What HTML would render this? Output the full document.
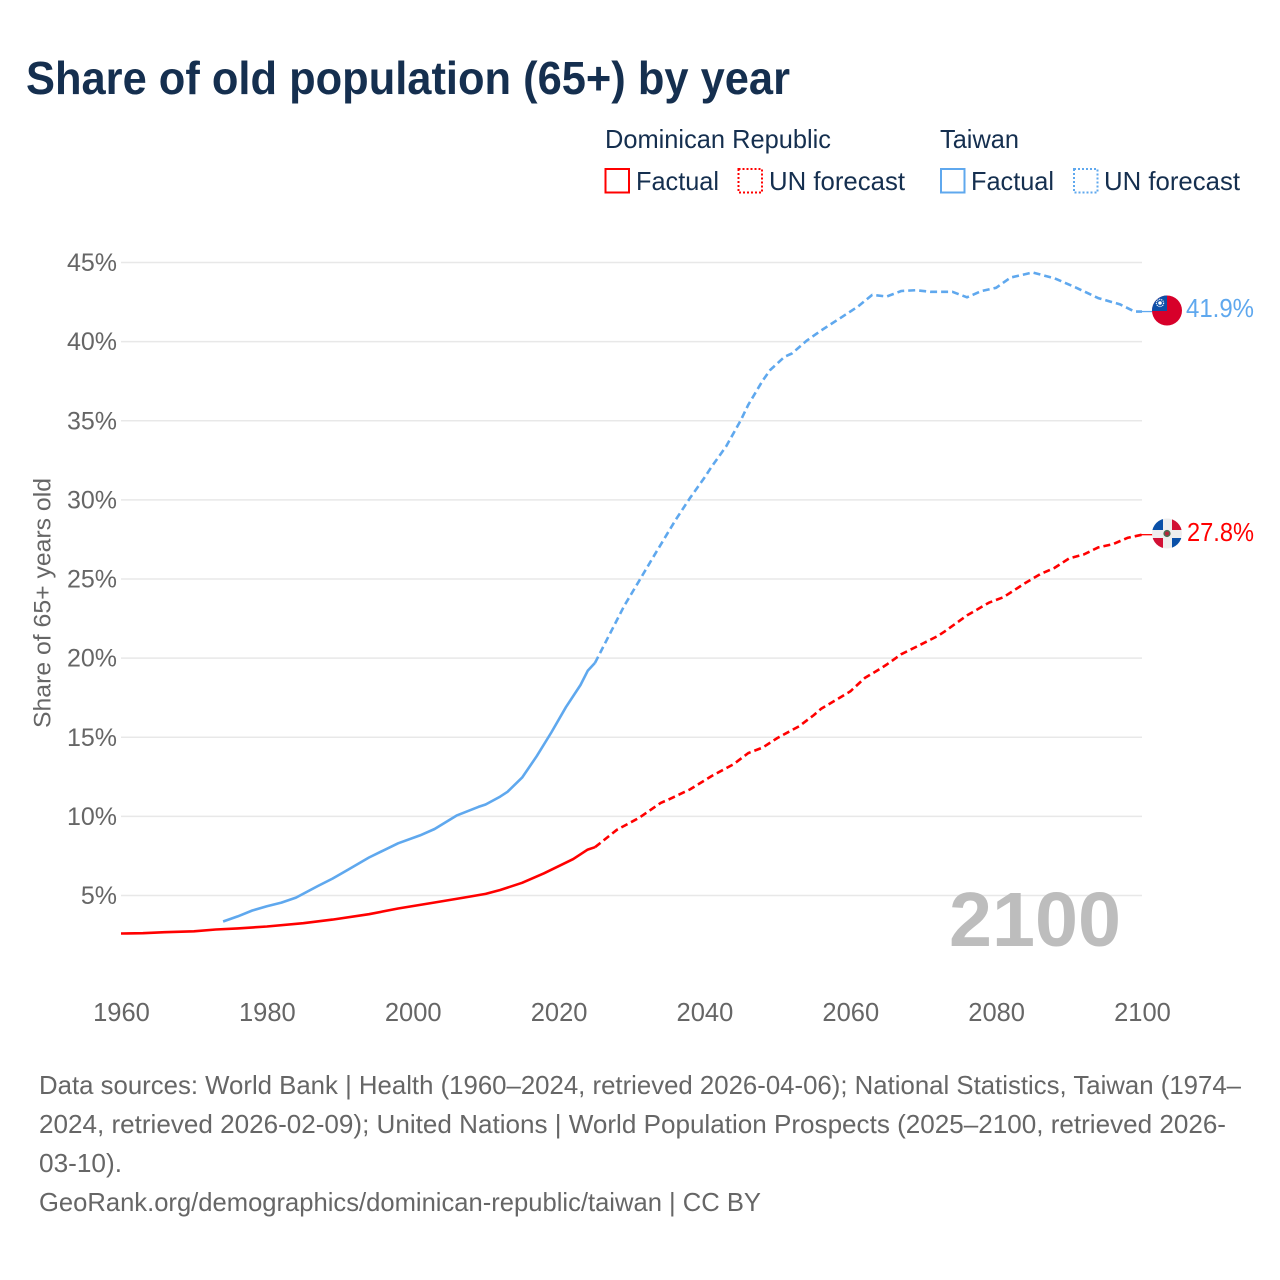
<!DOCTYPE html>
<html lang="en">
<head>
<meta charset="utf-8">
<title>Share of old population (65+) by year</title>
<style>
html,body{margin:0;padding:0;background:#fff}
svg{display:block}
text{font-family:"Liberation Sans",sans-serif}
</style>
</head>
<body>
<svg id="chart" xmlns="http://www.w3.org/2000/svg" width="1280" height="1280" viewBox="0 0 1280 1280">
  <rect width="1280" height="1280" fill="#fff"/>
  <text x="26" y="94" font-size="46" font-weight="700" fill="#152f4f" textLength="764" lengthAdjust="spacingAndGlyphs">Share of old population (65+) by year</text>

  <g font-size="26" fill="#152f4f">
    <text x="605" y="148" textLength="226" lengthAdjust="spacingAndGlyphs">Dominican Republic</text>
    <text x="940" y="148" textLength="79" lengthAdjust="spacingAndGlyphs">Taiwan</text>
    <rect x="605.5" y="169" width="23.5" height="23.5" fill="none" stroke="#ff0000" stroke-width="2"/>
    <text x="636" y="190" textLength="83" lengthAdjust="spacingAndGlyphs">Factual</text>
    <rect x="738.5" y="169" width="23.5" height="23.5" fill="none" stroke="#ff0000" stroke-width="2" stroke-dasharray="2 2"/>
    <text x="769" y="190" textLength="136" lengthAdjust="spacingAndGlyphs">UN forecast</text>
    <rect x="941" y="169" width="23.5" height="23.5" fill="none" stroke="#5fa8ee" stroke-width="2"/>
    <text x="971" y="190" textLength="83" lengthAdjust="spacingAndGlyphs">Factual</text>
    <rect x="1074" y="169" width="23.5" height="23.5" fill="none" stroke="#5fa8ee" stroke-width="2" stroke-dasharray="2 2"/>
    <text x="1104" y="190" textLength="136" lengthAdjust="spacingAndGlyphs">UN forecast</text>
  </g>

  <text transform="translate(50.5,603) rotate(-90)" text-anchor="middle" font-size="24" fill="#666" textLength="250" lengthAdjust="spacingAndGlyphs">Share of 65+ years old</text>
  <g id="grid"></g>
  <g id="yticks"></g>
  <g id="xticks"></g>

  <text x="949" y="946" font-size="77" font-weight="700" fill="#bdbdbd" textLength="172" lengthAdjust="spacingAndGlyphs">2100</text>

  <g id="series"></g>

  <g>
    <clipPath id="clipTw"><circle cx="1167" cy="310.5" r="15"/></clipPath>
    <g clip-path="url(#clipTw)">
      <rect x="1152" y="295" width="30" height="31" fill="#d7002a"/>
      <rect x="1152" y="295" width="15" height="16" fill="#0d4fa8"/>
      <circle cx="1160" cy="303" r="3.6" fill="none" stroke="#e8eef7" stroke-width="1.2" stroke-dasharray="1.2 0.8"/>
      <circle cx="1160" cy="303" r="1.8" fill="#fff"/>
    </g>
  </g>
  <g>
    <clipPath id="clipDr"><circle cx="1167" cy="533.5" r="15"/></clipPath>
    <g clip-path="url(#clipDr)">
      <rect x="1152" y="518" width="30" height="31" fill="#eeeeee"/>
      <rect x="1152" y="518" width="11" height="12" fill="#0a50a8"/>
      <rect x="1172" y="518" width="10" height="12" fill="#d21034"/>
      <rect x="1152" y="538" width="11" height="11" fill="#d21034"/>
      <rect x="1172" y="538" width="10" height="11" fill="#0a50a8"/>
      <circle cx="1167" cy="533.5" r="3.6" fill="#4d6b50"/>
      <circle cx="1167" cy="533.5" r="2" fill="#b8243a"/>
    </g>
  </g>
  <text x="1186" y="317" font-size="26" fill="#5fa8ee" textLength="68" lengthAdjust="spacingAndGlyphs">41.9%</text>
  <text x="1187" y="541" font-size="26" fill="#ff0000" textLength="67" lengthAdjust="spacingAndGlyphs">27.8%</text>

  <g font-size="26" fill="#666">
    <text x="39" y="1094" textLength="1202" lengthAdjust="spacingAndGlyphs">Data sources: World Bank | Health (1960–2024, retrieved 2026-04-06); National Statistics, Taiwan (1974–</text>
    <text x="39" y="1133" textLength="1187" lengthAdjust="spacingAndGlyphs">2024, retrieved 2026-02-09); United Nations | World Population Prospects (2025–2100, retrieved 2026-</text>
    <text x="39" y="1172" textLength="83" lengthAdjust="spacingAndGlyphs">03-10).</text>
    <text x="39" y="1211" textLength="722" lengthAdjust="spacingAndGlyphs">GeoRank.org/demographics/dominican-republic/taiwan | CC BY</text>
  </g>
</svg>
<script>
const yTickValues = [5, 10, 15, 20, 25, 30, 35, 40, 45];
const xTickYears = [1960, 1980, 2000, 2020, 2040, 2060, 2080, 2100];

const drFactualYears = [1960, 1963, 1966, 1970, 1973, 1976, 1980, 1985, 1989, 1994, 1998, 2003, 2007, 2010, 2012, 2015, 2018, 2020, 2022, 2024, 2025];
const drFactualValues = [2.6, 2.62, 2.68, 2.74, 2.85, 2.92, 3.04, 3.25, 3.48, 3.82, 4.18, 4.56, 4.87, 5.1, 5.35, 5.8, 6.4, 6.85, 7.3, 7.9, 8.05];
const drForecastYears = [2025, 2028, 2031, 2034, 2035, 2038, 2041, 2044, 2046, 2048, 2050, 2053, 2055, 2056, 2060, 2062, 2064, 2065, 2067, 2069, 2072, 2073, 2076, 2079, 2081, 2084, 2086, 2088, 2090, 2092, 2094, 2096, 2098, 2100];
const drForecastValues = [8.05, 9.15, 9.9, 10.85, 11.05, 11.7, 12.55, 13.3, 14.0, 14.35, 14.95, 15.7, 16.4, 16.8, 17.9, 18.75, 19.3, 19.6, 20.25, 20.7, 21.4, 21.7, 22.7, 23.5, 23.85, 24.75, 25.3, 25.7, 26.3, 26.55, 27.0, 27.2, 27.6, 27.8];

const twFactualYears = [1974, 1976, 1978, 1980, 1982, 1984, 1987, 1989, 1991, 1994, 1996, 1998, 2001, 2003, 2006, 2009, 2010, 2012, 2013, 2015, 2017, 2019, 2021, 2023, 2024, 2025];
const twFactualValues = [3.36, 3.68, 4.05, 4.32, 4.55, 4.87, 5.6, 6.07, 6.6, 7.4, 7.85, 8.3, 8.8, 9.2, 10.05, 10.6, 10.75, 11.25, 11.55, 12.45, 13.8, 15.3, 16.9, 18.3, 19.2, 19.7];
const twForecastYears = [2025, 2026, 2029, 2031, 2033, 2036, 2038, 2040, 2041, 2043, 2045, 2046, 2048, 2049, 2051, 2052, 2054, 2056, 2059, 2061, 2063, 2065, 2067, 2069, 2071, 2074, 2076, 2078, 2080, 2082, 2085, 2088, 2091, 2094, 2097, 2099, 2100];
const twForecastValues = [19.7, 20.6, 23.3, 24.85, 26.4, 28.7, 30.1, 31.4, 32.1, 33.4, 35.05, 36.0, 37.55, 38.2, 39.05, 39.25, 40.05, 40.7, 41.6, 42.2, 42.95, 42.85, 43.2, 43.25, 43.15, 43.15, 42.8, 43.2, 43.4, 44.05, 44.37, 44.0, 43.4, 42.75, 42.35, 41.9, 41.9];

const NS = 'http://www.w3.org/2000/svg';
const xScale = function (year) { return 121 + (year - 1960) * (1142 - 121) / 140; };
const yScale = function (v) { return 895.5 - (v - 5) * 15.825; };

function pointsOf(years, values) {
  return years.map(function (yr, i) { return xScale(yr).toFixed(1) + ',' + yScale(values[i]).toFixed(1); }).join(' ');
}

const grid = document.getElementById('grid');
const yticks = document.getElementById('yticks');
yTickValues.forEach(function (v) {
  const ln = document.createElementNS(NS, 'line');
  
  
  ln.setAttribute('x1', xScale(1960));
  ln.setAttribute('x2', xScale(2100));
  ln.setAttribute('y1', yScale(v));
  ln.setAttribute('y2', yScale(v));
  ln.setAttribute('stroke', '#e8e8e8');
  ln.setAttribute('stroke-width', '1.5');
  grid.appendChild(ln);
  const t = document.createElementNS(NS, 'text');
  
  
  t.setAttribute('x', 117);
  t.setAttribute('y', yScale(v) + 8.5);
  t.setAttribute('text-anchor', 'end');
  t.setAttribute('font-size', '25');
  t.setAttribute('fill', '#666');
  t.textContent = v + '%';
  yticks.appendChild(t);
});

const xticks = document.getElementById('xticks');
xTickYears.forEach(function (yr) {
  const t = document.createElementNS(NS, 'text');
  
  
  t.setAttribute('x', xScale(yr) + 0.5);
  t.setAttribute('y', 1021);
  t.setAttribute('text-anchor', 'middle');
  t.setAttribute('font-size', '25.5');
  t.setAttribute('fill', '#666');
  t.textContent = yr;
  xticks.appendChild(t);
});

const seriesGroup = document.getElementById('series');
function drawLine(name, years, values, color, dashed) {
  const p = document.createElementNS(NS, 'polyline');
  
  
  p.setAttribute('points', pointsOf(years, values));
  p.setAttribute('fill', 'none');
  p.setAttribute('stroke', color);
  p.setAttribute('stroke-width', '2.6');
  p.setAttribute('stroke-linejoin', 'round');
  if (dashed) p.setAttribute('stroke-dasharray', '7 4');
  seriesGroup.appendChild(p);
}
drawLine('taiwan-factual-line', twFactualYears, twFactualValues, '#5fa8ee', false);
drawLine('taiwan-forecast-line', twForecastYears, twForecastValues, '#5fa8ee', true);
drawLine('dominican-republic-factual-line', drFactualYears, drFactualValues, '#ff0000', false);
drawLine('dominican-republic-forecast-line', drForecastYears, drForecastValues, '#ff0000', true);

function drawConnector(name, value, color) {
  const c = document.createElementNS(NS, 'line');
  
  
  c.setAttribute('x1', xScale(2100) - 2);
  c.setAttribute('x2', 1153);
  c.setAttribute('y1', yScale(value));
  c.setAttribute('y2', yScale(value));
  c.setAttribute('stroke', color);
  c.setAttribute('stroke-width', '1.3');
  seriesGroup.appendChild(c);
}
drawConnector('taiwan-flag-connector', twForecastValues[twForecastValues.length - 1], '#5fa8ee');
drawConnector('dominican-republic-flag-connector', drForecastValues[drForecastValues.length - 1], '#ff0000');
</script>
</body>
</html>
